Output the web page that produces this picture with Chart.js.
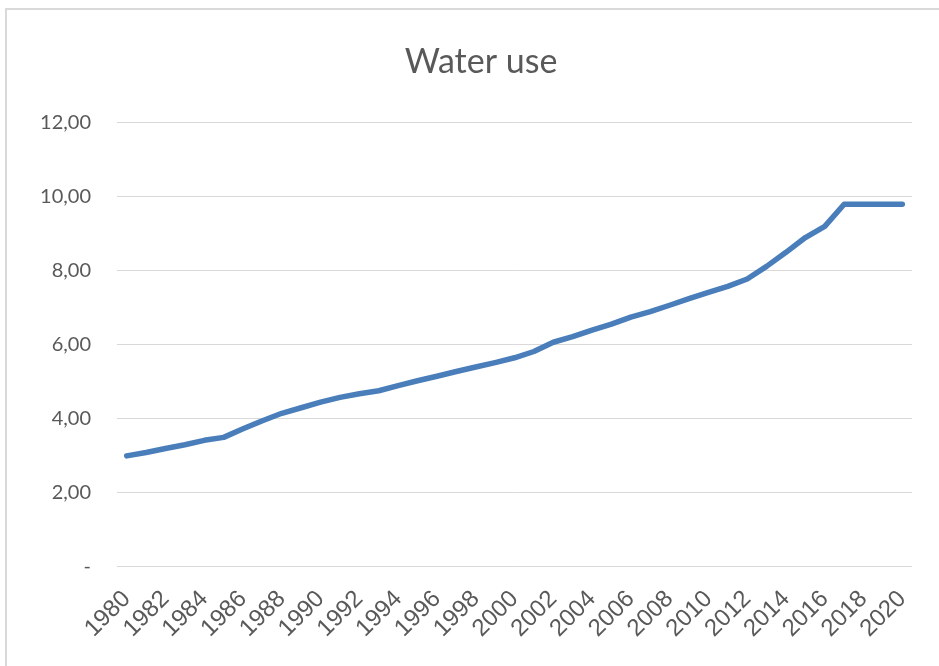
<!DOCTYPE html>
<html>
<head>
<meta charset="utf-8">
<script src="https://cdn.jsdelivr.net/npm/chart.js@4.4.0/dist/chart.umd.min.js"></script>
<style>
  html, body { margin: 0; padding: 0; background: #fff; }
  #wrap { position: relative; width: 939px; height: 666px; }
  #frame {
    position: absolute; left: 5px; top: 8px; width: 940px; height: 670px;
    border-left: 2px solid #d9d9d9; border-top: 2px solid #d9d9d9;
    box-sizing: border-box; pointer-events: none;
  }
  canvas { position: absolute; left: 0; top: 0; }
</style>
</head>
<body>
<div id="wrap">
  <canvas id="chart" width="939" height="666"></canvas>
  <div id="frame"></div>
</div>
<script>
// years on the category axis
const years = []
for (let y = 1980; y <= 2020; y++) years.push(String(y))

// water use
const waterUse = [
  3.00, 3.09, 3.20, 3.30, 3.42, 3.50, 3.73, 3.95, 4.15, 4.30,
  4.45, 4.58, 4.68, 4.76, 4.90, 5.03, 5.15, 5.28, 5.40, 5.52,
  5.65, 5.82, 6.07, 6.22, 6.40, 6.56, 6.75, 6.90, 7.07, 7.25,
  7.42, 7.58, 7.78, 8.12, 8.50, 8.90, 9.20, 9.80, 9.80, 9.80,
  9.80
]

// y ticks: 0..12 step 2
const yMin = 0
const yMax = 12
const yStep = 2

const gray = '#595959'
const gridColor = '#d9d9d9'

new Chart(document.getElementById('chart'), {
  type: 'line',
  data: {
    labels: years,
    datasets: [{
      label: 'Water use',
      data: waterUse,
      borderColor: '#4a7ebb',
      borderWidth: 5.5,
      borderCapStyle: 'round',
      borderJoinStyle: 'round',
      pointRadius: 0,
      tension: 0,
      fill: false
    }]
  },
  options: {
    responsive: false,
    animation: false,
    layout: { padding: { left: 23, right: 0, top: 0, bottom: 13 } },
    plugins: {
      legend: { display: false },
      tooltip: { enabled: false },
      title: {
        display: true,
        text: 'Water use',
        color: gray,
        font: { family: 'Lato, "Open Sans", sans-serif', size: 34, weight: 'normal' },
        padding: { top: 42, bottom: 40 }
      }
    },
    scales: {
      x: {
        offset: true,
        border: { display: false },
        grid: { display: false },
        ticks: {
          autoSkip: false,
          minRotation: 45,
          maxRotation: 45,
          padding: 10,
          color: gray,
          font: { family: '"Liberation Sans", Arial, sans-serif', size: 24 },
          callback: function (value, index) {
            return index % 2 === 0 ? this.getLabelForValue(value) : ''
          }
        }
      },
      y: {
        min: yMin,
        max: yMax,
        border: { display: false },
        grid: { color: gridColor, lineWidth: 1, drawTicks: false },
        afterFit: (scale) => { scale.width = 94 },
        ticks: {
          stepSize: yStep,
          padding: 26,
          color: gray,
          font: { family: 'Lato, "Open Sans", sans-serif', size: 20 },
          callback: (v) => v === 0 ? '-' : v.toFixed(2).replace('.', ',')
        }
      },
      // empty right-hand margin so the plot ends where the original does
      yRight: {
        position: 'right',
        min: yMin,
        max: yMax,
        border: { display: false },
        grid: { display: false },
        ticks: { display: false },
        afterFit: (scale) => { scale.width = 27 }
      }
    }
  }
})
</script>
</body>
</html>
